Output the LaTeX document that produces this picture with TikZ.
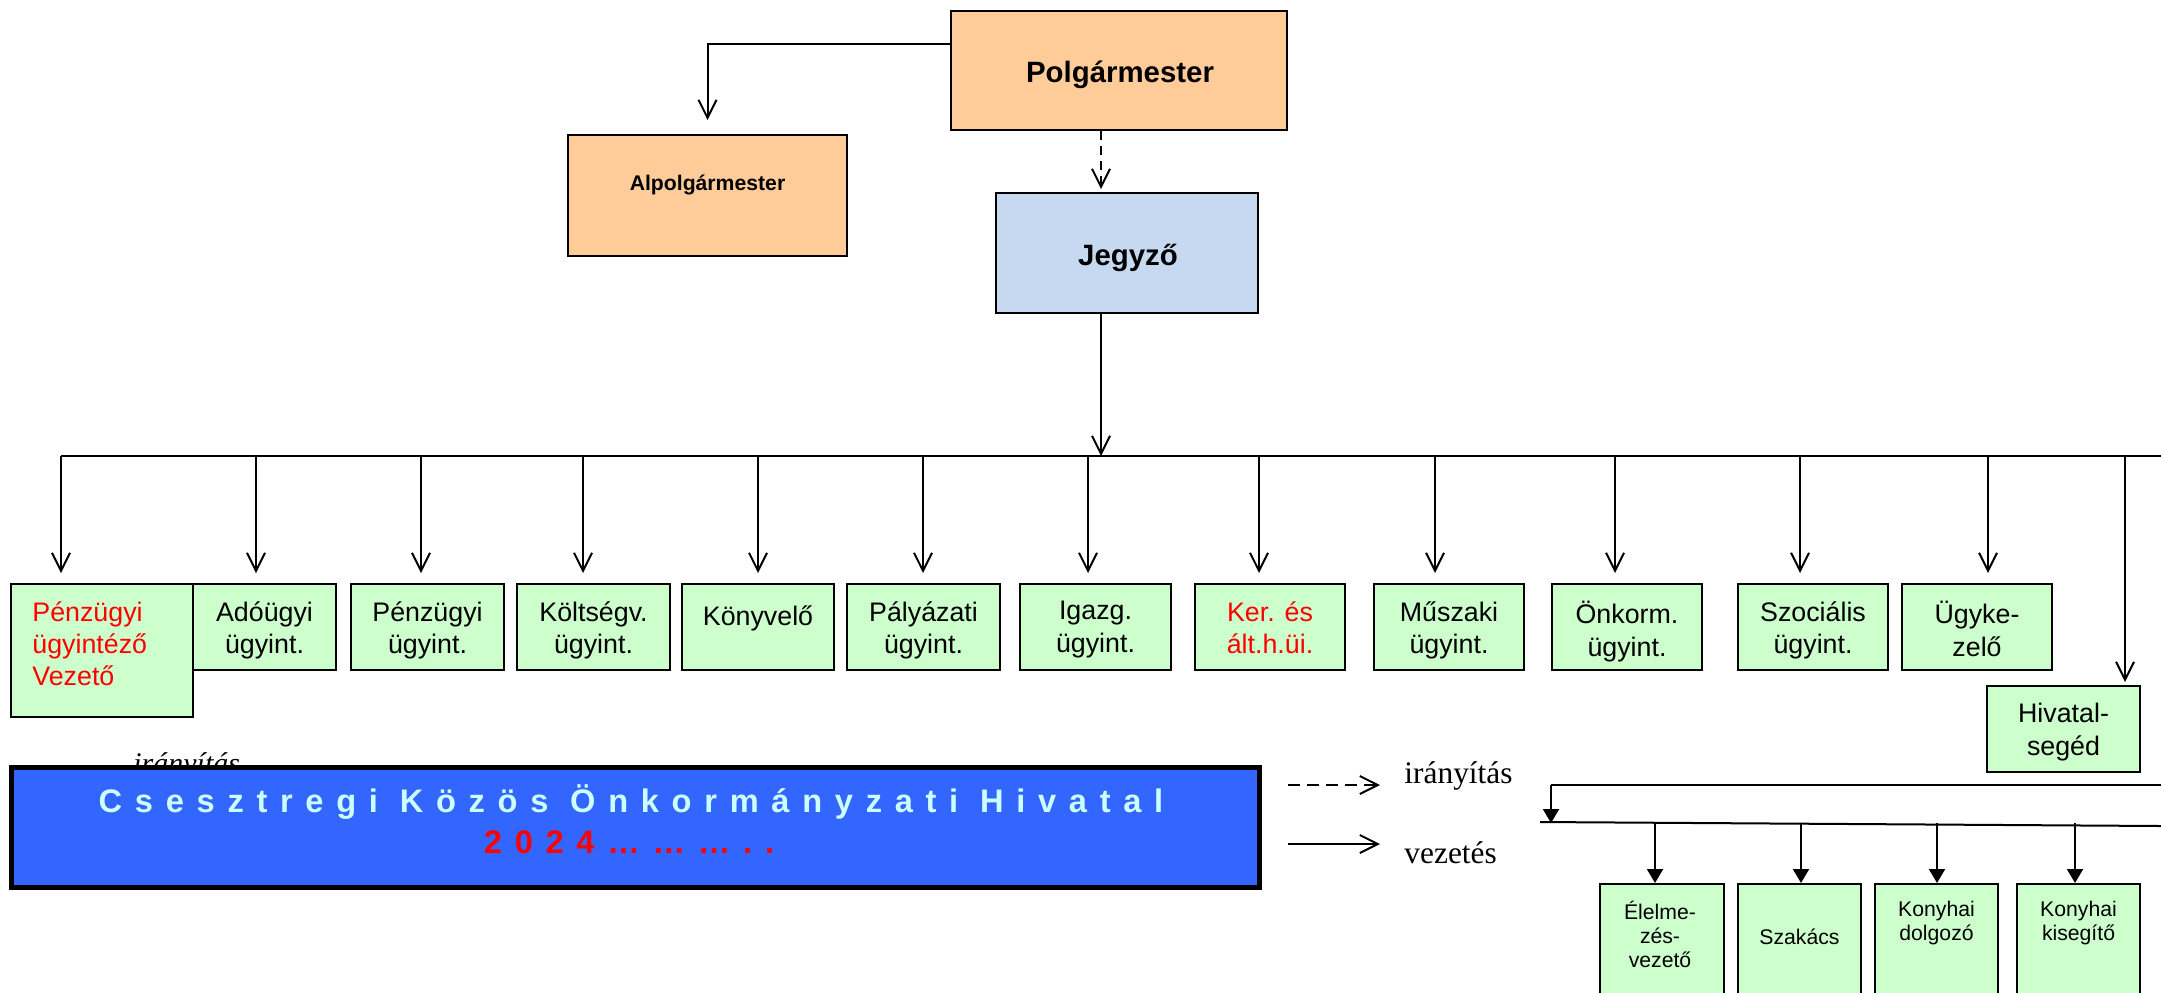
\documentclass[tikz,border=0pt]{standalone}
\usepackage{fontspec}
\setmainfont{Liberation Serif}
\newfontfamily\arialf{Liberation Sans}
\newfontfamily\titlef[LetterSpace=39]{Liberation Sans}
\usetikzlibrary{arrows.meta}
\definecolor{gfill}{HTML}{CCFFCC}
\definecolor{ofill}{HTML}{FFCC99}
\definecolor{bfill}{HTML}{C6D9F1}
\definecolor{tblue}{HTML}{3366FF}
\definecolor{tcyan}{HTML}{CCFFFF}
\definecolor{tred}{HTML}{FF0000}
\begin{document}
\begin{tikzpicture}[x=0.5pt,y=-0.5pt,
  gbox/.style={draw, line width=1pt, fill=gfill, inner sep=0pt},
  obox/.style={draw, line width=1pt, fill=ofill, inner sep=0pt},
  rtext/.style={font=\arialf\fontsize{13.4}{16.2}\selectfont, align=center, anchor=north, inner sep=0pt, execute at begin node={\rule{0pt}{12pt}}},
  ktext/.style={font=\arialf\fontsize{10.6}{11.9}\selectfont, align=center, anchor=north, inner sep=0pt, execute at begin node={\rule{0pt}{10pt}}},
  btext/.style={font=\arialf\bfseries\fontsize{14.7}{17}\selectfont, anchor=base, inner sep=0pt},
  arr/.style={line width=1pt, -{Straight Barb[length=9pt,width=9pt]}},
  farr/.style={line width=1pt, -{Triangle[length=7pt,width=8pt]}},
  wire/.style={line width=1pt},
]
\useasboundingbox (0,0) rectangle (2161,992);

% top boxes
\node[obox, minimum width=168pt, minimum height=59.5pt] (polg) at (1119,70.5) {};
\node[btext] (polgt) at (1120,82) {Polgármester};
\node[obox, minimum width=139.5pt, minimum height=60.5pt] (alp) at (707.5,195.5) {};
\node[btext, font=\arialf\bfseries\fontsize{10.6}{13}\selectfont] (alpt) at (707.5,190) {Alpolgármester};
\node[draw, line width=1pt, fill=bfill, inner sep=0pt, minimum width=131pt, minimum height=60pt] (jeg) at (1127,253) {};
\node[btext] (jegt) at (1128,265) {Jegyző};

\coordinate (y44) at (0,44);
\coordinate (dx) at (1101,0);
\coordinate (busL) at (61,456);
\coordinate (busR) at (2161,456);

\draw[arr, shorten >=7pt] (polg.west |- y44) -| (alp.north);
\draw[arr, dash pattern=on 4.5pt off 3pt, shorten >=1.5pt] (polg.south -| dx) -- (jeg.north -| dx);
\draw[wire] (busL) -- (busR);
\draw[arr] (jeg.south -| dx) -- (dx |- busL);

% row boxes
\node[gbox, minimum width=91pt, minimum height=66.5pt] (p0) at (102,650.5) {};
\node[gbox, minimum width=71.5pt, minimum height=43pt] (p1) at (264.5,627) {};
\node[gbox, minimum width=76.5pt, minimum height=43pt] (p2) at (427.5,627) {};
\node[gbox, minimum width=76.5pt, minimum height=43pt] (p3) at (593.5,627) {};
\node[gbox, minimum width=76pt, minimum height=43pt] (p4) at (758,627) {};
\node[gbox, minimum width=76.5pt, minimum height=43pt] (p5) at (923.5,627) {};
\node[gbox, minimum width=75.5pt, minimum height=43pt] (p6) at (1095.5,627) {};
\node[gbox, minimum width=75pt, minimum height=43pt] (p7) at (1270,627) {};
\node[gbox, minimum width=75pt, minimum height=43pt] (p8) at (1449,627) {};
\node[gbox, minimum width=75pt, minimum height=43pt] (p9) at (1627,627) {};
\node[gbox, minimum width=75pt, minimum height=43pt] (p10) at (1813,627) {};
\node[gbox, minimum width=75pt, minimum height=43pt] (p11) at (1977,627) {};
\node[gbox, minimum width=76.5pt, minimum height=43pt] (p12) at (2063.5,729) {};

\node[rtext, align=left, anchor=north west, text=tred] (t0) at (32,601) {Pénzügyi\\ügyintéző\\Vezető};
\node[rtext] (t1) at (264.5,601) {Adóügyi\\ügyint.};
\node[rtext] (t2) at (427.5,601) {Pénzügyi\\ügyint.};
\node[rtext] (t3) at (593.5,601) {Költségv.\\ügyint.};
\node[rtext] (t4) at (758,601) {Könyvelő};
\node[rtext] (t5) at (923.5,601) {Pályázati\\ügyint.};
\node[rtext] (t6) at (1095.5,601) {Igazg.\\ügyint.};
\node[rtext, text=tred] (t7) at (1270,601) {Ker. és\\ált.h.üi.};
\node[rtext] (t8) at (1449,601) {Műszaki\\ügyint.};
\node[rtext] (t9) at (1627,601) {Önkorm.\\ügyint.};
\node[rtext] (t10) at (1813,601) {Szociális\\ügyint.};
\node[rtext] (t11) at (1977,601) {Ügyke-\\zelő};
\node[rtext] (t12) at (2063.5,703) {Hivatal-\\segéd};

% arrows from bus
\foreach \i/\xx in {0/61,1/256,2/421,3/583,4/758,5/923,6/1088,7/1259,8/1435,9/1615,10/1800,11/1988}{
  \coordinate (a\i) at (\xx,456);
  \draw[arr, shorten >=5pt] (a\i) -- (a\i |- p\i.north);
}
\coordinate (a12) at (2125,456);
\draw[arr, shorten >=1.5pt] (a12) -- (a12 |- p12.north);

% kitchen sub-bus
\coordinate (sbR) at (2161,785);
\coordinate (sbL) at (1551,785);
\coordinate (sbD) at (1551,823);
\coordinate (lbL) at (1540,822);
\coordinate (lbR) at (2161,826);
\draw[wire] (sbR) -- (sbL);
\draw[farr] (sbL) -- (sbD);
\draw[wire] (lbL) -- (lbR);

\node[gbox, minimum width=62pt, minimum height=58pt] (k1) at (1662,942) {};
\node[gbox, minimum width=61.5pt, minimum height=58pt] (k2) at (1799.5,942) {};
\node[gbox, minimum width=61.5pt, minimum height=58pt] (k3) at (1936.5,942) {};
\node[gbox, minimum width=61.5pt, minimum height=58pt] (k4) at (2078.5,942) {};
\node[ktext] (kt1) at (1660,901) {Élelme-\\zés-\\vezető};
\node[ktext] (kt2) at (1799.5,924) {Szakács};
\node[ktext] (kt3) at (1936.5,901) {Konyhai\\dolgozó};
\node[ktext] (kt4) at (2078.5,901) {Konyhai\\kisegítő};
\foreach \i/\xx in {1/1655,2/1801,3/1937,4/2075}{
  \coordinate (c\i) at (\xx,823);
  \draw[farr] (c\i) -- (c\i |- k\i.north);
}

% legend
\coordinate (l1a) at (1288,785);
\coordinate (l1b) at (1380,785);
\coordinate (l2a) at (1288,844);
\coordinate (l2b) at (1380,844);
\draw[arr, dash pattern=on 6pt off 3.5pt] (l1a) -- (l1b);
\draw[arr] (l2a) -- (l2b);
\node[font=\fontsize{15.7}{18}\selectfont, anchor=base west, inner sep=0pt] (lt1) at (1404,783) {irányítás};
\node[font=\fontsize{15.7}{18}\selectfont, anchor=base west, inner sep=0pt] (lt2) at (1404,863) {vezetés};

% hidden label behind title box
\node[font=\itshape\fontsize{15}{18}\selectfont, anchor=base west, inner sep=0pt] (hid) at (133,773) {irányítás};

% title box
\node[draw=black, line width=2.5pt, fill=tblue, inner sep=0pt, minimum width=624pt, minimum height=60pt] (title) at (635,827) {};
\node[font=\titlef\bfseries\fontsize{16.3}{19}\selectfont, text=tcyan, anchor=base, inner sep=0pt] (tt1) at (631,812) {Csesztregi Közös Önkormányzati Hivatal};
\node[font=\titlef\bfseries\fontsize{16.3}{19}\selectfont, text=tred, anchor=base, inner sep=0pt] (tt2) at (629,853) {2024………..};
\end{tikzpicture}
\end{document}
